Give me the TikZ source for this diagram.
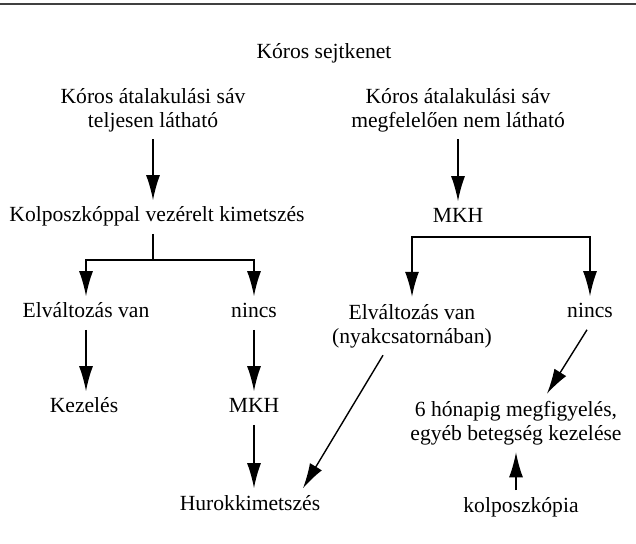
\documentclass[tikz,border=0pt]{standalone}
\usepackage{fontspec}
\newfontfamily\timesfont{Liberation Serif}
\usepackage{tikz}
\usetikzlibrary{positioning}
\usetikzlibrary{arrows.meta}

\begin{document}
\begin{tikzpicture}[
  x=0.5pt, y=-0.5pt,
  font=\timesfont\fontsize{10.8}{12}\selectfont,
  txt/.style={inner sep=3.5pt, text height=0.72em, text depth=0.22em},
  txtml/.style={inner sep=3.5pt, align=center},
  arrow/.style={-{Latex[length=12.5pt, width=7pt]}, line width=0.7pt},
  line/.style={line width=0.7pt},
  rule/.style={line width=1.3pt, black!75}
]
\useasboundingbox (0,0) rectangle (636,544);

% Top rule
\draw[rule] (0,4) -- (636,4);

% Title
\node[txt] (cyt) at (324,54) {Kóros sejtkenet};

% Left: zone fully visible
\node[txtml] (hdrL) at (153,110) {Kóros átalakulási sáv\\teljesen látható};
\node[txt] (kolp) at (157,217) {Kolposzkóppal vezérelt kimetszés};
\draw[arrow] (hdrL.south) -- (hdrL.south |- kolp.north);

\coordinate (brL) at (153,260);
\node[txt] (elvL) at (86,313) {Elváltozás van};
\node[txt] (nincsL) at (254,313) {nincs};
\draw[line] (kolp.south -| brL) -- (brL);
\draw[arrow] (brL) -| (elvL.north);
\draw[arrow] (brL) -| (nincsL.north);

\node[txt] (kez) at (84,408) {Kezelés};
\node[txt] (mkhL) at (254,408) {MKH};
\node[txt] (hurok) at (250,505) {Hurokkimetszés};
\draw[arrow] (elvL.south) -- (elvL.south |- kez.north);
\draw[arrow] (nincsL.south) -- (nincsL.south |- mkhL.north);
\draw[arrow] (mkhL.south) -- (mkhL.south |- hurok.north);

% Right: zone not properly visible
\node[txtml] (hdrR) at (458,110) {Kóros átalakulási sáv\\megfelelően nem látható};
\node[txt] (mkhR) at (458,218) {MKH};
\draw[arrow] (hdrR.south) -- (mkhR.north);

\coordinate (brR) at (458,237);
\node[txtml] (elvR) at (412,326) {Elváltozás van\\(nyakcsatornában)};
\node[txt] (nincsR) at (590,313) {nincs};
\draw[arrow] (brR) -| (elvR.north);
\draw[arrow] (brR) -| (nincsR.north);

\node[txtml] (honap) at (516,423) {6 hónapig megfigyelés,\\egyéb betegség kezelése};
\node[txt] (kolpo) at (521,507) {kolposzkópia};
\draw[arrow] ([xshift=-14.5pt]elvR.south) -- ([xshift=26.5pt]hurok.north);
\draw[arrow] ([xshift=-1.5pt]nincsR.south) -- ([xshift=15.5pt]honap.north);
\draw[arrow] (honap.south |- kolpo.north) -- (honap.south);

\end{tikzpicture}
\end{document}
